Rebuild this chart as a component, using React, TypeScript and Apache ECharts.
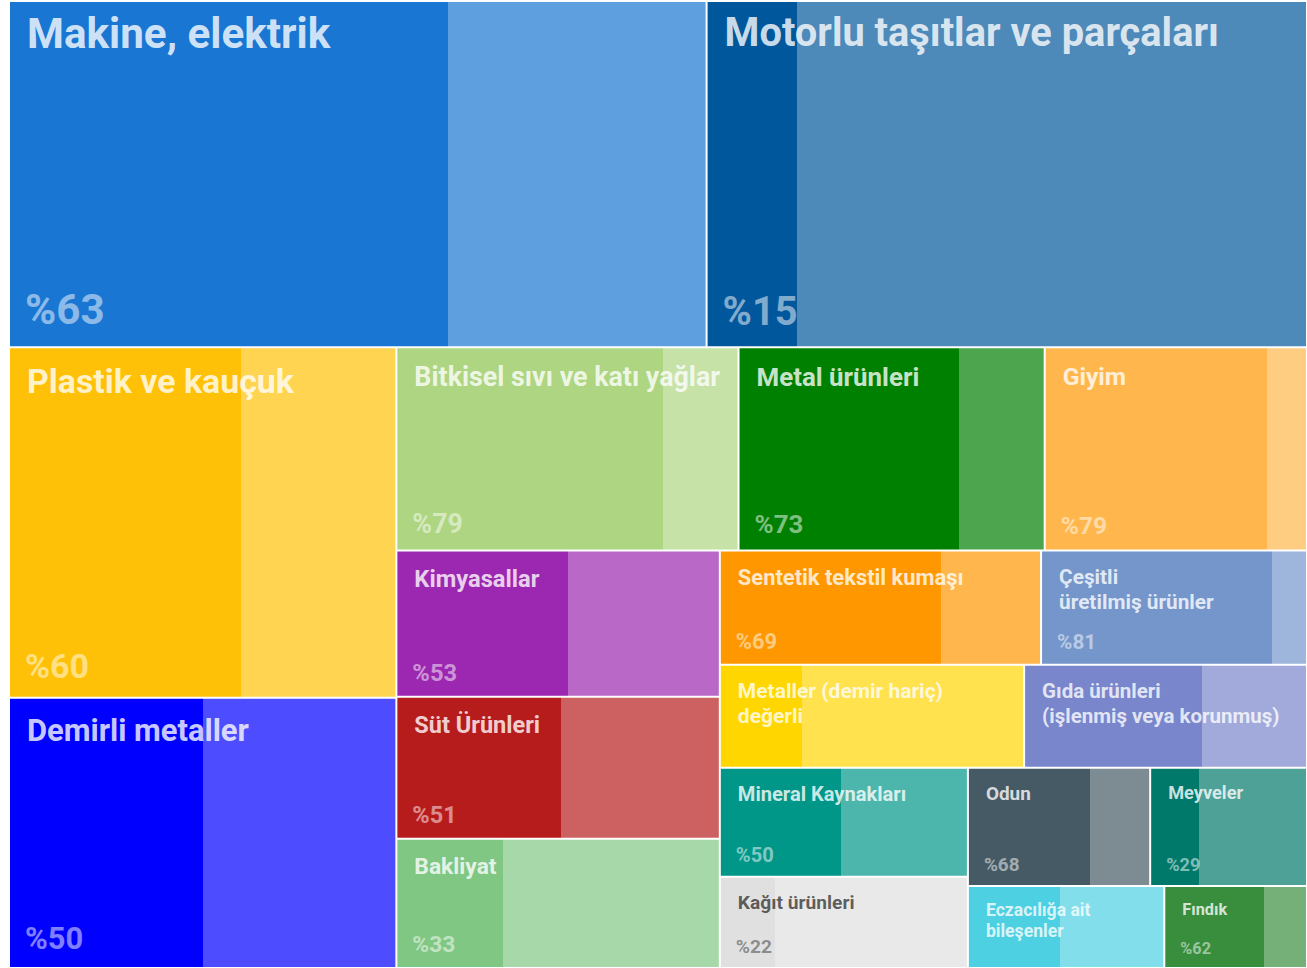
import React, { useEffect, useRef } from 'react';
import * as echarts from 'echarts';

// ---- data ----
const categories = [
  'Makine, elektrik',
  'Motorlu taşıtlar ve parçaları',
  'Plastik ve kauçuk',
  'Demirli metaller',
  'Bitkisel sıvı ve katı yağlar',
  'Metal ürünleri',
  'Giyim',
  'Kimyasallar',
  'Süt Ürünleri',
  'Bakliyat',
  'Sentetik tekstil kumaşı',
  'Çeşitli\nüretilmiş ürünler',
  'Metaller (demir hariç)\ndeğerli',
  'Gıda ürünleri\n(işlenmiş veya korunmuş)',
  'Mineral Kaynakları',
  'Kağıt ürünleri',
  'Odun',
  'Meyveler',
  'Eczacılığa ait\nbileşenler',
  'Fındık',
];
const values = [241.2, 207.6, 135.5, 104.5, 69.4, 62.1, 53.2, 47.2, 45.9, 41.7, 36.6, 30.3, 31.3, 29.1, 27.0, 22.6, 21.5, 18.5, 16.1, 11.7];
// share of the darker part (read from the drawn split)
const darkShares = [63, 15, 60, 50, 78, 72, 85, 53, 51, 33, 69, 87, 27, 63, 49, 22, 67, 31, 47, 70];
// share labels as printed
const shareLabels = ['%63', '%15', '%60', '%50', '%79', '%73', '%79', '%53', '%51', '%33', '%69', '%81', '', '', '%50', '%22', '%68', '%29', '', '%62'];
const baseColors = [
  '#1976D2', '#01579B', '#FFC107', '#0000FF', '#AED581', '#008000', '#FFB74D',
  '#9C27B0', '#B71C1C', '#81C784', '#FF9800', '#7496CB', '#FFD600', '#7986CB',
  '#009688', '#E0E0E0', '#455A64', '#00796B', '#4DD0E1', '#388E3C',
];

// Nesting of blocks (indices into categories). `lead` = first block takes its own strip.
type Block = number | { lead?: boolean; items: Block[] };
const layoutTree: Block[] = [
  { items: [0, 1] },
  {
    lead: true,
    items: [
      { lead: true, items: [2, 3] },
      {
        items: [
          { items: [4, 5, 6] },
          {
            lead: true,
            items: [
              { lead: true, items: [{ items: [7, 8] }, 9] },
              {
                items: [
                  { items: [10, 11] },
                  {
                    items: [
                      { items: [12, 13] },
                      {
                        lead: true,
                        items: [
                          { items: [14, 15] },
                          { items: [{ items: [16, 17] }, { items: [18, 19] }] },
                        ],
                      },
                    ],
                  },
                ],
              },
            ],
          },
        ],
      },
    ],
  },
];

// ---- helpers ----
function hexToRgb(h: string) {
  const n = parseInt(h.slice(1), 16);
  return [(n >> 16) & 255, (n >> 8) & 255, n & 255];
}
function lighten(h: string, t: number) {
  const [r, g, b] = hexToRgb(h);
  const m = (c: number) => Math.round(c * (1 - t) + 255 * t);
  return `rgb(${m(r)},${m(g)},${m(b)})`;
}
function isLight(h: string) {
  const [r, g, b] = hexToRgb(h);
  return (r + g + b) / 765 > 0.8;
}
function fontSizeFor(v: number) {
  return Math.round((9 + 2.14 * Math.sqrt(v)) * 10) / 10;
}

const SPACER_VALUE = 1e-6;

function spacer() {
  return {
    name: '',
    value: SPACER_VALUE,
    itemStyle: { color: 'rgba(0,0,0,0)', borderWidth: 0 },
    label: { show: false },
  };
}

function leaf(i: number, mode: 'name' | 'share') {
  const fs = fontSizeFor(values[i]);
  const dark = baseColors[i];
  const light = lighten(dark, 0.3);
  const s = darkShares[i] / 100;
  const lightBg = isLight(dark);
  if (mode === 'name') {
    return {
      name: categories[i],
      value: values[i],
      itemStyle: {
        borderWidth: 1,
        borderColor: '#ffffff',
        color: new echarts.graphic.LinearGradient(0, 0, 1, 0, [
          { offset: 0, color: dark },
          { offset: s, color: dark },
          { offset: s, color: light },
          { offset: 1, color: light },
        ]),
      },
      label: {
        fontSize: fs,
        lineHeight: Math.round(fs * 1.2),
        padding: [fs > 36 ? 6 : 13, 0, 0, 17],
        color: lightBg ? 'rgba(0,0,0,0.62)' : 'rgba(255,255,255,0.8)',
      },
    };
  }
  return {
    name: categories[i],
    value: values[i],
    itemStyle: { color: 'rgba(0,0,0,0)', borderWidth: 0 },
    label: {
      show: !!shareLabels[i],
      formatter: shareLabels[i] || ' ',
      fontSize: fs,
      lineHeight: Math.round(fs * 1.2),
      padding: [0, 0, Math.round(8 + 0.1 * fs), 16],
      color: lightBg ? 'rgba(0,0,0,0.4)' : 'rgba(255,255,255,0.5)',
    },
  };
}

function build(block: Block, mode: 'name' | 'share'): any {
  if (typeof block === 'number') return leaf(block, mode);
  const children = block.items.map((b) => build(b, mode));
  if (block.lead) children.unshift(spacer());
  return { name: '', children };
}

export default function App() {
  const ref = useRef<HTMLDivElement>(null);
  useEffect(() => {
    if (!ref.current) return;
    const prevMargin = document.body.style.margin;
    document.body.style.margin = '0';
    const chart = echarts.init(ref.current, undefined, { renderer: 'svg' });
    const common = {
      type: 'treemap',
      left: 9,
      top: 1,
      right: 0,
      bottom: 0,
      squareRatio: 2.4,
      sort: false,
      roam: false,
      nodeClick: false,
      silent: true,
      breadcrumb: { show: false },
      itemStyle: { borderWidth: 0, gapWidth: 0, borderColor: 'rgba(0,0,0,0)' },
      upperLabel: { show: false },
      emphasis: { disabled: true },
    };
    chart.setOption({
      animation: false,
      tooltip: { show: false },
      series: [
        {
          ...common,
          id: 'names',
          label: {
            show: true,
            position: 'insideTopLeft',
            distance: 0,
            fontFamily: 'Roboto',
            fontWeight: 'bold',
            overflow: 'none',
          },
          data: layoutTree.map((b) => build(b, 'name')),
        },
        {
          ...common,
          id: 'shares',
          label: {
            show: true,
            position: 'insideBottomLeft',
            distance: 0,
            fontFamily: 'Roboto',
            fontWeight: 'bold',
            overflow: 'none',
          },
          data: layoutTree.map((b) => build(b, 'share')),
        },
      ],
    });
    return () => {
      chart.dispose();
      document.body.style.margin = prevMargin;
    };
  }, []);
  return <div ref={ref} style={{ width: 1307, height: 968 }} />;
}
